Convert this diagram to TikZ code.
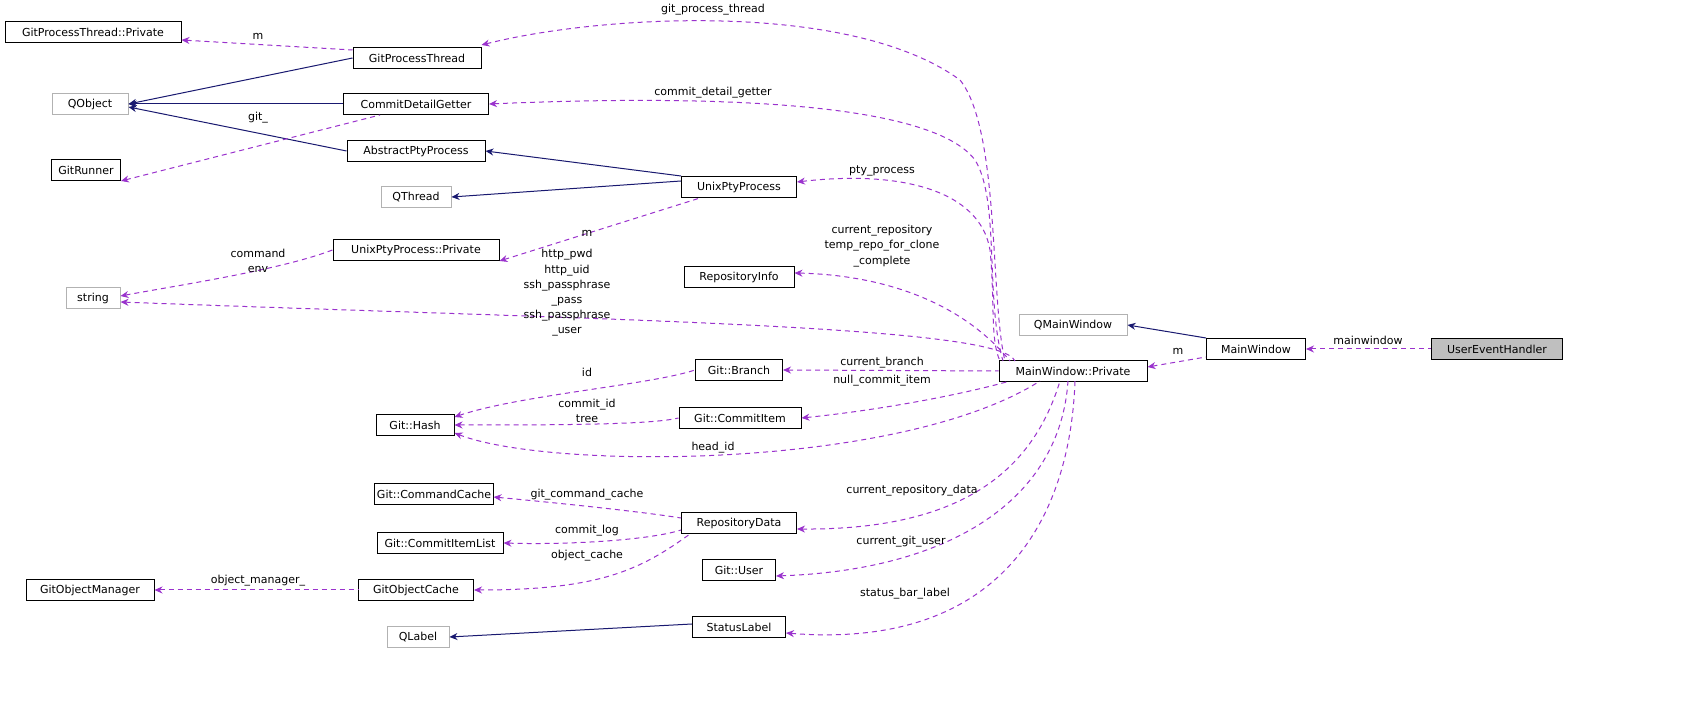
\documentclass[tikz,border=0pt]{standalone}
\usepackage{fontspec}
\setmainfont{DejaVu Sans}
\usetikzlibrary{arrows.meta}
\definecolor{inh}{HTML}{191970}
\definecolor{use}{HTML}{9A32CD}
\begin{document}
\begin{tikzpicture}[x=0.5pt,y=-0.5pt,
 box/.style={draw=black,fill=white,minimum height=10.5pt,inner sep=1pt,line width=0.5pt,font=\fontsize{5.5}{6}\selectfont},
 ext/.style={box,draw=gray!60},
 cur/.style={box,fill=gray!50},
 inhe/.style={draw=inh,line width=0.5pt,{Stealth[length=4pt,width=3.5pt]}-},
 usee/.style={draw=use,dash pattern=on 2.5pt off 2pt,line width=0.5pt,{Stealth[length=4pt,width=3.5pt]}-},
 lab/.style={font=\fontsize{5.5}{7.6}\selectfont,align=center,text=black,inner sep=0pt}]
\fill[white] (0,0) rectangle (1691,704);
\useasboundingbox (0,0) rectangle (1691,704);
\node[box,minimum width=88pt] (gptp) at (93,32) {GitProcessThread::Private};
\node[ext,minimum width=38pt] (qobj) at (90,104) {QObject};
\node[box,minimum width=34.5pt] (grun) at (86,170) {GitRunner};
\node[ext,minimum width=27pt] (str) at (93,298) {string};
\node[box,minimum width=39pt] (hash) at (415,425) {Git::Hash};
\node[box,minimum width=57.5pt] (ccache) at (434,494) {Git::CommandCache};
\node[box,minimum width=63pt] (cil) at (440,543) {Git::CommitItemList};
\node[box,minimum width=64pt] (gom) at (90,590) {GitObjectManager};
\node[ext,minimum width=31pt] (qlabel) at (418,637) {QLabel};
\node[box,minimum width=64pt] (gpt) at (417,58) {GitProcessThread};
\node[box,minimum width=72.5pt] (cdg) at (416,104) {CommitDetailGetter};
\node[box,minimum width=69pt] (app) at (416,151) {AbstractPtyProcess};
\node[ext,minimum width=35pt] (qthr) at (416,197) {QThread};
\node[box,minimum width=83pt] (uppp) at (416,250) {UnixPtyProcess::Private};
\node[box,minimum width=57.5pt] (upp) at (739,187) {UnixPtyProcess};
\node[box,minimum width=55pt] (rinfo) at (739,277) {RepositoryInfo};
\node[box,minimum width=43.5pt] (branch) at (739,370) {Git::Branch};
\node[box,minimum width=61pt] (citem) at (740,418) {Git::CommitItem};
\node[box,minimum width=57.5pt] (rdata) at (739,523) {RepositoryData};
\node[box,minimum width=36.5pt] (guser) at (739,570) {Git::User};
\node[box,minimum width=57.5pt] (goc) at (416,590) {GitObjectCache};
\node[box,minimum width=46.5pt] (slabel) at (739,627) {StatusLabel};
\node[box,minimum width=74pt] (mwp) at (1073,371) {MainWindow::Private};
\node[ext,minimum width=54pt] (qmw) at (1073,325) {QMainWindow};
\node[box,minimum width=49.5pt] (mw) at (1256,349) {MainWindow};
\node[cur,minimum width=65.5pt] (ueh) at (1497,349) {UserEventHandler};
% inheritance
\draw[inhe] (qobj.east) -- (gpt.west);
\draw[inhe] (qobj.east) -- (cdg.west);
\draw[inhe] ([yshift=-1.5pt]qobj.east) -- (app.west);
\draw[inhe] (app.east) -- (upp.north west);
\draw[inhe] (qthr.east) -- ([yshift=3pt]upp.west);
\draw[inhe] (qmw.east) -- (mw.north west);
\draw[inhe] (qlabel.east) -- ([yshift=1.5pt]slabel.west);
% usage
\draw[usee] ([yshift=-4pt]gptp.east) -- ([yshift=4pt]gpt.west) node[lab,at={(258,36)}] {m};
\draw[usee] (grun.south east) -- (380,115) node[lab,at={(258,118)}] {git\_};
\draw[usee] (uppp.south east) -- (700,198) node[lab,at={(587,233)}] {m};
\draw[usee] ([yshift=1pt]str.east) .. controls (180,285) and (280,270) .. (uppp.west) node[lab,at={(258,261)}] {command\\env};
\draw[usee] ([yshift=6.5pt]gpt.east) .. controls (600,15) and (850,0) .. (960,80) .. controls (1000,130) and (990,300) .. (1005,361) node[lab,at={(713,10)}] {git\_process\_thread};
\draw[usee] (cdg.east) .. controls (700,95) and (930,100) .. (975,160) .. controls (1000,200) and (985,300) .. (1003,361) node[lab,at={(713,93)}] {commit\_detail\_getter};
\draw[usee] ([yshift=2.5pt]upp.east) .. controls (900,170) and (980,190) .. (990,250) .. controls (995,300) and (990,340) .. (1000,361) node[lab,at={(882,171)}] {pty\_process};
\draw[usee] ([yshift=2pt]rinfo.east) .. controls (880,275) and (960,300) .. (1010,361) node[lab,at={(882,246)}] {current\_repository\\temp\_repo\_for\_clone\\\_complete};
\draw[usee] ([yshift=-2pt]str.east) .. controls (600,320) and (1000,325) .. (1015,361) node[lab,at={(567,293)}] {http\_pwd\\http\_uid\\ssh\_passphrase\\\_pass\\ssh\_passphrase\\\_user};
\draw[usee] (branch.east) -- (mwp.west) node[lab,at={(882,363)}] {current\_branch};
\draw[usee] (citem.east) .. controls (880,410) and (960,395) .. (1010,381) node[lab,at={(882,381)}] {null\_commit\_item};
\draw[usee] ([yshift=-4pt]hash.east) .. controls (550,470) and (900,470) .. (1040,381) node[lab,at={(713,448)}] {head\_id};
\draw[usee] ([yshift=4pt]hash.east) .. controls (520,395) and (650,385) .. (branch.west) node[lab,at={(587,372)}] {id};
\draw[usee] (hash.east) .. controls (550,425) and (650,425) .. (citem.west) node[lab,at={(587,411)}] {commit\_id\\tree};
\draw[usee] ([yshift=-3pt]rdata.east) .. controls (950,530) and (1030,480) .. (1060,381) node[lab,at={(912,491)}] {current\_repository\_data};
\draw[usee] ([yshift=-3pt]guser.east) .. controls (950,570) and (1060,500) .. (1068,381) node[lab,at={(901,542)}] {current\_git\_user};
\draw[usee] ([yshift=-3pt]slabel.east) .. controls (1000,650) and (1070,520) .. (1075,381) node[lab,at={(905,594)}] {status\_bar\_label};
\draw[usee] ([yshift=-1.5pt]ccache.east) .. controls (580,505) and (650,513) .. ([yshift=2.5pt]rdata.west) node[lab,at={(587,495)}] {git\_command\_cache};
\draw[usee] (cil.east) .. controls (570,545) and (650,540) .. ([yshift=-3.5pt]rdata.west) node[lab,at={(587,531)}] {commit\_log};
\draw[usee] (goc.east) .. controls (600,590) and (640,570) .. (690,534) node[lab,at={(587,556)}] {object\_cache};
\draw[usee] (gom.east) -- (goc.west) node[lab,at={(258,581)}] {object\_manager\_};
\draw[usee] ([yshift=2pt]mwp.east) -- ([yshift=-4pt]mw.west) node[lab,at={(1178,351)}] {m};
\draw[usee] (mw.east) -- (ueh.west) node[lab,at={(1368,340)}] {mainwindow};
\end{tikzpicture}
\end{document}
